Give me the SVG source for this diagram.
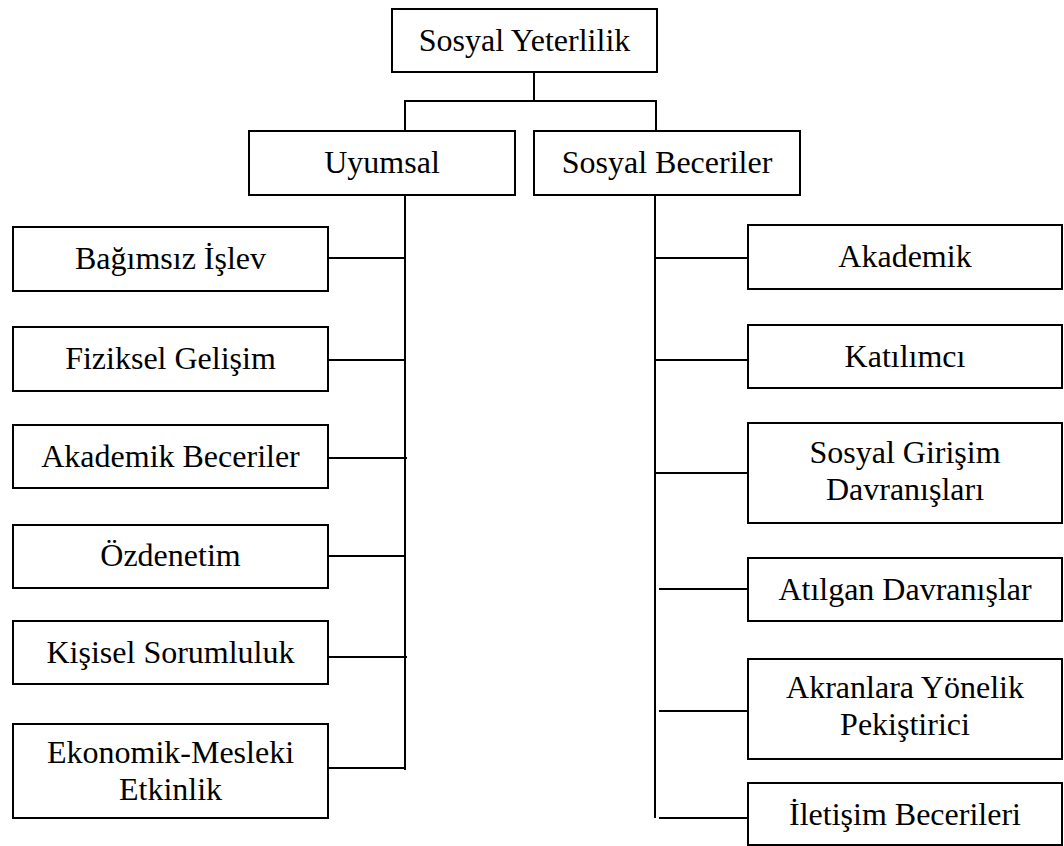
<svg xmlns="http://www.w3.org/2000/svg" width="1064" height="846" viewBox="0 0 1064 846" font-family="'Liberation Serif', 'Times New Roman', Times, 'DejaVu Serif', serif">
<style>
.box{fill:#fff;stroke:#000;stroke-width:2}
text{font-family:'Liberation Serif','Times New Roman',Times,'DejaVu Serif',serif;font-size:32px;fill:#000;text-anchor:middle}
.c line{stroke:#000;stroke-width:2}
</style>
<rect width="1064" height="846" fill="#fff"/>
<g class="c" id="connectors">
<line x1="534" y1="72" x2="534" y2="101"/>
<line x1="405" y1="101" x2="656" y2="101"/>
<line x1="405" y1="100" x2="405" y2="131"/>
<line x1="656" y1="100" x2="656" y2="131"/>
<line x1="405" y1="195" x2="405" y2="770"/>
<line x1="328" y1="258" x2="405" y2="258"/>
<line x1="328" y1="360" x2="405" y2="360"/>
<line x1="328" y1="458" x2="407" y2="458"/>
<line x1="328" y1="556" x2="405" y2="556"/>
<line x1="328" y1="657" x2="407" y2="657"/>
<line x1="328" y1="768" x2="405" y2="768"/>
<line x1="655" y1="195" x2="655" y2="818"/>
<line x1="655" y1="258" x2="748" y2="258"/>
<line x1="655" y1="360" x2="748" y2="360"/>
<line x1="655" y1="473" x2="748" y2="473"/>
<line x1="659" y1="589" x2="750" y2="589"/>
<line x1="659" y1="711" x2="750" y2="711"/>
<line x1="659" y1="818" x2="750" y2="818"/>
</g>
<g id="n-sosyal-yeterlilik"><rect class="box" x="392" y="9" width="265" height="63"/><text x="524.5" y="51">Sosyal Yeterlilik</text></g>
<g id="n-uyumsal"><rect class="box" x="249" y="131" width="266" height="64"/><text x="382" y="173">Uyumsal</text></g>
<g id="n-sosyal-beceriler"><rect class="box" x="534" y="131" width="266" height="64"/><text x="667" y="173">Sosyal Beceriler</text></g>
<g id="n-bagimsiz"><rect class="box" x="13" y="227" width="315" height="64"/><text x="170.5" y="269">Bağımsız İşlev</text></g>
<g id="n-fiziksel"><rect class="box" x="13" y="327" width="315" height="64"/><text x="170.5" y="369">Fiziksel Gelişim</text></g>
<g id="n-akademik-beceriler"><rect class="box" x="13" y="425" width="315" height="63"/><text x="170.5" y="467">Akademik Beceriler</text></g>
<g id="n-ozdenetim"><rect class="box" x="13" y="525" width="315" height="63"/><text x="170.5" y="566">Özdenetim</text></g>
<g id="n-kisisel"><rect class="box" x="13" y="621" width="315" height="63"/><text x="170.5" y="663">Kişisel Sorumluluk</text></g>
<g id="n-ekonomik"><rect class="box" x="13" y="724" width="315" height="94"/><text x="170.5" y="763">Ekonomik-Mesleki</text><text x="170.5" y="800">Etkinlik</text></g>
<g id="n-akademik"><rect class="box" x="748" y="225" width="314" height="64"/><text x="905" y="267">Akademik</text></g>
<g id="n-katilimci"><rect class="box" x="748" y="325" width="314" height="63"/><text x="905" y="367">Katılımcı</text></g>
<g id="n-sosyal-girisim"><rect class="box" x="748" y="423" width="314" height="100"/><text x="905" y="463">Sosyal Girişim</text><text x="905" y="500">Davranışları</text></g>
<g id="n-atilgan"><rect class="box" x="748" y="558" width="314" height="63"/><text x="905" y="600">Atılgan Davranışlar</text></g>
<g id="n-akranlara"><rect class="box" x="748" y="659" width="314" height="100"/><text x="905" y="698">Akranlara Yönelik</text><text x="905" y="735">Pekiştirici</text></g>
<g id="n-iletisim"><rect class="box" x="748" y="783" width="314" height="62"/><text x="905" y="825">İletişim Becerileri</text></g>
</svg>
